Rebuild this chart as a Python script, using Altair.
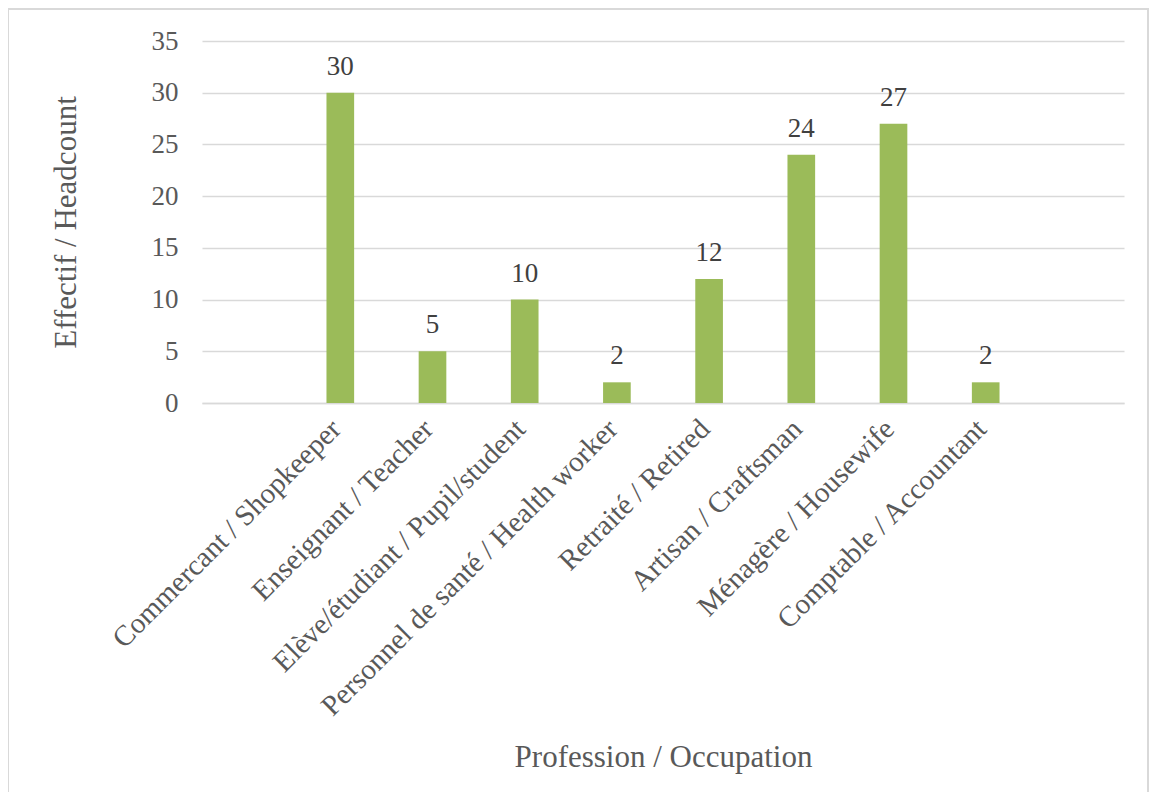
import altair as alt
import pandas as pd

categories = [
    "Commercant / Shopkeeper",
    "Enseignant / Teacher",
    "Elève/étudiant / Pupil/student",
    "Personnel de santé / Health worker",
    "Retraité / Retired",
    "Artisan / Craftsman",
    "Ménagère / Housewife",
    "Comptable / Accountant",
]
counts = [30, 5, 10, 2, 12, 24, 27, 2]
# empty category slots at both ends of the axis, as in the original
domain = [" "] + categories + ["  "]

df = pd.DataFrame({"cat": categories, "n": counts})

FONT = "Liberation Serif"
W, H = 922, 362

x = alt.X(
    "cat:N",
    scale=alt.Scale(domain=domain, paddingInner=0.7, paddingOuter=0.35),
    axis=alt.Axis(
        title="Profession / Occupation",
        labelAngle=-45,
        labelAlign="right",
        labelBaseline="middle",
        labelPadding=21,
        labelOffset=-4,
        labelFontSize=29,
        labelFont=FONT,
        labelColor="#595959",
        labelLimit=600,
        ticks=False,
        domainColor="#d9d9d9",
        domainWidth=1.5,
        titleFont=FONT,
        titleFontSize=31,
        titleFontWeight="normal",
        titleColor="#595959",
        titleBaseline="alphabetic",
        titleY=363,
        titleX=W / 2,
        titleAlign="center",
    ),
)

y = alt.Y(
    "n:Q",
    scale=alt.Scale(domain=[0, 35]),
    axis=alt.Axis(
        title="Effectif / Headcount",
        values=[0, 5, 10, 15, 20, 25, 30, 35],
        domain=False,
        ticks=False,
        labelPadding=24,
        labelFontSize=27,
        labelFont=FONT,
        labelColor="#595959",
        gridColor="#d9d9d9",
        gridWidth=1.5,
        titleFont=FONT,
        titleFontSize=31,
        titleFontWeight="normal",
        titleColor="#595959",
        titleBaseline="alphabetic",
        titleX=-127,
        titleY=H / 2,
        titleAngle=-90,
        titleAlign="center",
    ),
)

base = alt.Chart(df)

bars = base.mark_bar(color="#9BBB59").encode(x=x, y=y)

labels = base.mark_text(
    font=FONT, fontSize=27, color="#404040", baseline="alphabetic", dy=-18
).encode(x=x, y=y, text="n:Q")

border = base.mark_rect(
    fill=None, stroke="#d9d9d9", strokeWidth=2
).encode(
    x=alt.value(-194), x2=alt.value(946), y=alt.value(-32), y2=alt.value(790)
)

chart = (
    alt.layer(bars, labels, border)
    .properties(
        width=W,
        height=H,
        autosize=alt.AutoSizeParams(type="none"),
        padding={"left": 194, "top": 33, "right": 26, "bottom": 389},
        background="white",
    )
    .configure_view(stroke=None)
)

chart.save("out.html", embed_options={"renderer": "svg", "actions": False})
